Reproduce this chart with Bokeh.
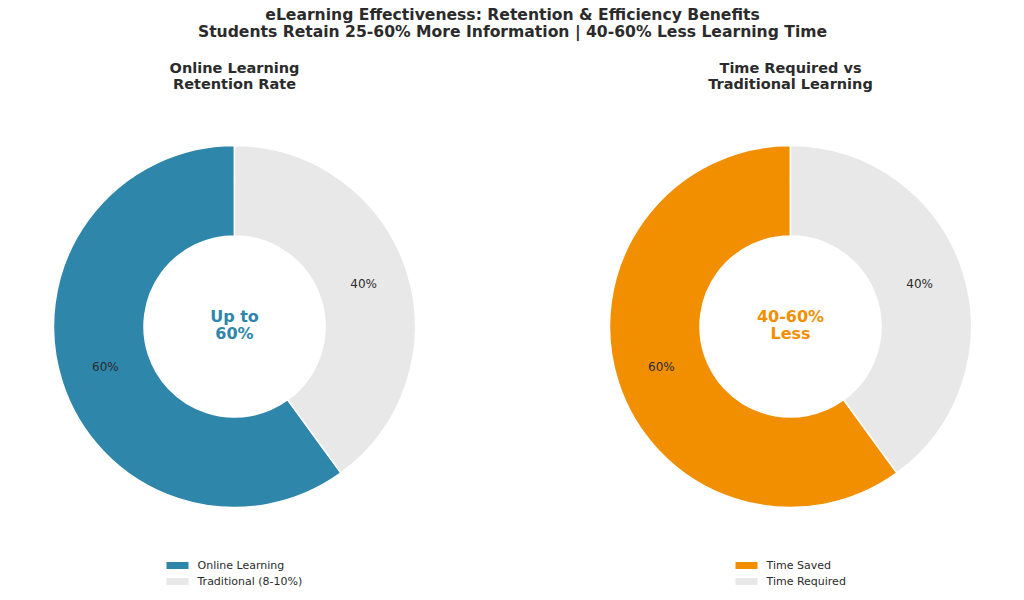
import math
from bokeh.plotting import figure
from bokeh.models import Range1d, ColumnDataSource
from bokeh.core.properties import value
from bokeh.embed import file_html
from bokeh.resources import INLINE

# ---- data ----
retention_labels = ["Online Learning", "Traditional (8-10%)"]
retention_values = [60, 40]
retention_colors = ["#2E86AB", "#E8E8E8"]
retention_center = ["Up to", "60%"]
retention_title = ["Online Learning", "Retention Rate"]

time_labels = ["Time Saved", "Time Required"]
time_values = [60, 40]
time_colors = ["#F18F01", "#E8E8E8"]
time_center = ["40-60%", "Less"]
time_title = ["Time Required vs", "Traditional Learning"]

main_title = [
    "eLearning Effectiveness: Retention & Efficiency Benefits",
    "Students Retain 25-60% More Information | 40-60% Less Learning Time",
]

W, H = 1024, 600
FONT = value("DejaVu Sans")
TXT = "#2b2b2b"

p = figure(width=W, height=H, output_backend="svg", toolbar_location=None,
           x_range=Range1d(0, W), y_range=Range1d(0, H), min_border=0)
p.axis.visible = False
p.grid.visible = False
p.outline_line_color = None
p.background_fill_color = "white"
p.border_fill_color = "white"


def Y(py):
    return H - py


def donut(cx, cy, values, colors, labels, center_lines, center_color,
          title_lines, legend_offset):
    total = float(sum(values))
    r_out, r_in = 181, 90.5
    start = math.pi / 2
    starts, ends, mids = [], [], []
    for v in values:
        sweep = 2 * math.pi * v / total
        starts.append(start)
        ends.append(start + sweep)
        mids.append(start + sweep / 2)
        start += sweep
    src = ColumnDataSource(dict(x=[cx] * len(values), y=[Y(cy)] * len(values),
                                s=starts, e=ends, c=colors))
    p.annular_wedge(x="x", y="y", inner_radius=r_in, outer_radius=r_out,
                    start_angle="s", end_angle="e", fill_color="c",
                    line_color="white", line_width=1.5, source=src)
    # percentage labels
    rl = 0.75 * r_out
    p.text(x=[cx + rl * math.cos(m) for m in mids],
           y=[Y(cy - 1) + rl * math.sin(m) for m in mids],
           text=[f"{v / total * 100:.0f}%" for v in values],
           text_align="center", text_baseline="middle",
           text_font=FONT, text_font_size="12px", text_color=TXT)
    # center text
    p.text(x=[cx, cx], y=[Y(cy - 10), Y(cy + 7)], text=center_lines,
           text_align="center", text_baseline="middle", text_font=FONT,
           text_font_size="16px", text_font_style="bold", text_color=center_color)
    # subplot title
    p.text(x=[cx, cx], y=[Y(67), Y(83)], text=title_lines,
           text_align="center", text_baseline="middle", text_font=FONT,
           text_font_size="14.5px", text_font_style="bold", text_color=TXT)
    # legend
    sw_x = cx - legend_offset
    ly = [565, 581]
    p.rect(x=[sw_x] * 2, y=[Y(v) for v in ly], width=22, height=7,
           fill_color=colors, line_color=None)
    p.text(x=[sw_x + 20] * 2, y=[Y(v) for v in ly], text=labels,
           text_align="left", text_baseline="middle", text_font=FONT,
           text_font_size="11px", text_color=TXT)


donut(234, 326, retention_values, retention_colors, retention_labels,
      retention_center, "#2E86AB", retention_title, 57)
donut(790, 326, time_values, time_colors, time_labels,
      time_center, "#F18F01", time_title, 44)

p.text(x=[W / 2, W / 2], y=[Y(14), Y(31)], text=main_title,
       text_align="center", text_baseline="middle", text_font=FONT,
       text_font_size="15.6px", text_font_style="bold", text_color=TXT)

open("out.html", "w").write(file_html(p, INLINE))
